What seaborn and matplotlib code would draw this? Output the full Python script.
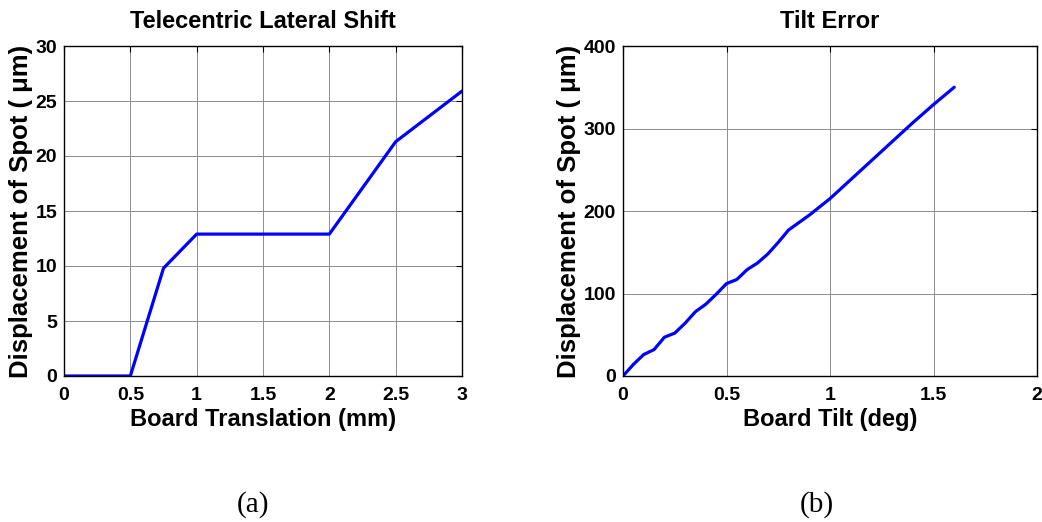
import pandas as pd
import matplotlib
matplotlib.use("Agg")
import matplotlib.pyplot as plt
import seaborn as sns

# data
trans_mm = [0, 0.5, 0.75, 1.0, 2.0, 2.5, 3.0]
trans_um = [0, 0, 9.8, 12.9, 12.9, 21.3, 25.9]

tilt_deg = [0, 0.05, 0.1, 0.15, 0.2, 0.25, 0.3, 0.35, 0.4, 0.45, 0.5, 0.55,
            0.6, 0.65, 0.7, 0.75, 0.8, 0.85, 0.9, 0.95, 1.0, 1.1, 1.2, 1.3,
            1.4, 1.5, 1.6]
tilt_um = [0, 14, 26, 32, 47, 52, 64, 78, 87, 99, 112, 117,
           129, 137, 148, 162, 177, 186, 195, 205, 215, 238, 261, 284,
           307, 329, 350]

sns.set_style("white")
plt.rcParams['font.family'] = ['Liberation Sans', 'DejaVu Sans']
plt.rcParams['text.color'] = 'black'
plt.rcParams['axes.labelcolor'] = 'black'
plt.rcParams['xtick.color'] = 'black'
plt.rcParams['ytick.color'] = 'black'

W, H = 1042, 522
fig = plt.figure(figsize=(W / 100, H / 100), dpi=100)

ax1 = fig.add_axes([64 / W, 146 / H, 398 / W, 330 / H])
ax2 = fig.add_axes([623 / W, 146 / H, 414 / W, 330 / H])

df1 = pd.DataFrame({'x': trans_mm, 'y': trans_um})
df2 = pd.DataFrame({'x': tilt_deg, 'y': tilt_um})

sns.lineplot(data=df1, x='x', y='y', ax=ax1, color='#0000ff', lw=2.3, sort=False)
sns.lineplot(data=df2, x='x', y='y', ax=ax2, color='#0000ff', lw=2.3, sort=False)

ax1.set_xlim(0, 3)
ax1.set_ylim(0, 30)
ax1.set_xticks([0, 0.5, 1, 1.5, 2, 2.5, 3])
ax1.set_xticklabels(['0', '0.5', '1', '1.5', '2', '2.5', '3'])
ax1.set_yticks(range(0, 31, 5))

ax2.set_xlim(0, 2)
ax2.set_ylim(0, 400)
ax2.set_xticks([0, 0.5, 1, 1.5, 2])
ax2.set_xticklabels(['0', '0.5', '1', '1.5', '2'])
ax2.set_yticks(range(0, 401, 100))

titles = ['Telecentric Lateral Shift', 'Tilt Error']
xlabels = ['Board Translation (mm)', 'Board Tilt (deg)']

for ax, t, xl in zip([ax1, ax2], titles, xlabels):
    ax.grid(True, color='#8c8c8c', lw=0.7)
    ax.set_axisbelow(True)
    for s in ax.spines.values():
        s.set_color('black')
        s.set_linewidth(1.0)
        s.set_visible(True)
    ax.tick_params(direction='in', length=4, width=0.8, top=True, right=True,
                   labelsize=14, pad=5)
    ax.tick_params(axis='x', pad=8)
    for lab in ax.get_xticklabels() + ax.get_yticklabels():
        lab.set_fontweight('bold')
    ax.set_title(t, fontsize=17, fontweight='bold', pad=13)
    ax.set_xlabel(xl, fontsize=17, fontweight='bold', labelpad=3)
    ax.set_ylabel('Displacement of Spot ( \u03bcm)', fontsize=18.5, fontweight='bold', labelpad=2)

fig.text(253 / W, 1 - 505 / H, '(a)', ha='center', va='center',
         fontsize=21, family=['Liberation Serif', 'DejaVu Serif'])
fig.text(817 / W, 1 - 505 / H, '(b)', ha='center', va='center',
         fontsize=21, family=['Liberation Serif', 'DejaVu Serif'])

fig.savefig('out.png', dpi=100)
